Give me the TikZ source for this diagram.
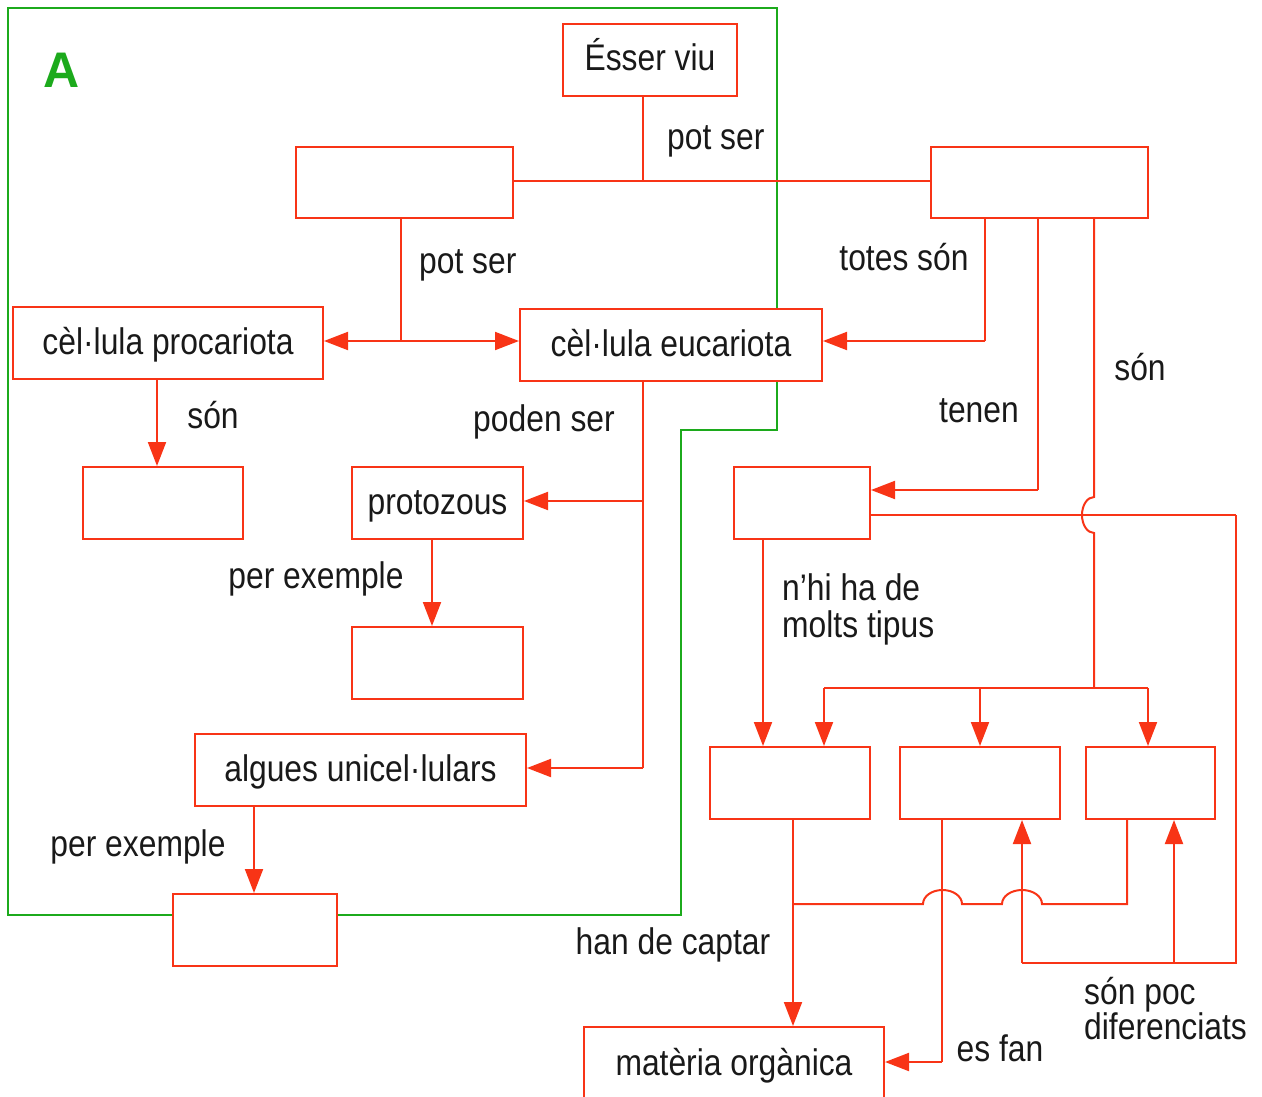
\documentclass[tikz,border=0pt]{standalone}
\usepackage{fontspec}
\setmainfont{Liberation Sans}[FakeStretch=0.86]
\newfontfamily\tagfont{Liberation Sans}
\usetikzlibrary{arrows.meta,calc}

\definecolor{linered}{RGB}{248,52,22}
\definecolor{framegreen}{RGB}{28,170,28}

\begin{document}
\begin{tikzpicture}[x=1pt,y=-1pt,
  every node/.style={font=\fontsize{37}{34}\selectfont, text=black!90},
  box/.style={draw=linered, line width=2pt, fill=white, inner sep=0pt,
              text height=27pt, text depth=5pt},
  lbl/.style={inner sep=0pt, text height=27pt, text depth=5pt},
  lbls/.style={inner sep=0pt, align=left, anchor=north west},
  wire/.style={draw=linered, line width=2pt},
  arr/.style={wire, -{Triangle[length=24pt,width=18pt]}},
  ]
\useasboundingbox (0,0) rectangle (1262,1097);
\clip (0,0) rectangle (1262,1097);

% green frame around part A
\draw[framegreen, line width=2.5pt]
  (8,8) -- (777,8) -- (777,430) -- (681,430) -- (681,915) -- (8,915) -- cycle;
\node[text=framegreen, font=\tagfont\fontsize{50}{50}\selectfont\bfseries] (tagA) at (62,70) {A};

% junction points of the connectors
\coordinate (j1) at (643,181);
\coordinate (j2) at (401,341);
\coordinate (j3) at (985,341);
\coordinate (j4) at (1038,490);
\coordinate (j5) at (1094,497);
\coordinate (j5b) at (1094,688);
\coordinate (k1) at (824,688);
\coordinate (k3) at (1148,688);
\coordinate (j6) at (157,379);
\coordinate (j7) at (643,501);
\coordinate (j7b) at (643,768);
\coordinate (j8) at (432,539);
\coordinate (j9) at (254,806);
\coordinate (j10) at (763,539);
\coordinate (r1) at (1236,515);
\coordinate (r2) at (1236,963);
\coordinate (r3) at (1174,963);
\coordinate (r4) at (1022,963);
\coordinate (h0) at (793,904);
\coordinate (h1) at (923,904);
\coordinate (h2) at (1002,904);
\coordinate (h3) at (1127,904);
\coordinate (m1) at (942,1062);

% connectors
\draw[wire] (j1 |- 0,96) -- (j1);
\draw[wire] (513,181) -- (931,181);
\draw[wire] (j2 |- 0,218) -- (j2);
\draw[wire] (j3 |- 0,218) -- (j3);
\draw[wire] (j4 |- 0,218) -- (j4);
\draw[wire] (j5 |- 0,218) -- (j5)
  arc[start angle=270, end angle=90, x radius=12, y radius=18] -- (j5b);
\draw[wire] (k1) -- (k3);
\draw[wire] (j7 |- 0,381) -- (j7b);
\draw[wire] (h0 |- 0,819) -- (h0);
\draw[wire] (h0) -- (h1)
  arc[start angle=180, end angle=360, x radius=19.5, y radius=14] -- (h2)
  arc[start angle=180, end angle=360, x radius=20, y radius=14] -- (h3) -- (h3 |- 0,819);
\draw[wire] (r1) -- (r2) -- (r4);
\draw[wire] (m1 |- 0,819) -- (m1);

% boxes
\node[box, minimum width=174pt, minimum height=72pt] (esser) at (650,60) {Ésser viu};
\node[box, minimum width=217pt, minimum height=71pt] (b1) at (404.5,182.5) {};
\node[box, minimum width=217pt, minimum height=71pt] (b2) at (1039.5,182.5) {};
\node[box, minimum width=310pt, minimum height=72pt] (pro) at (168,343) {cèl·lula procariota};
\node[box, minimum width=302pt, minimum height=72pt] (euc) at (671,345) {cèl·lula eucariota};
\node[box, minimum width=160pt, minimum height=72pt] (pe) at (163,503) {};
\node[box, minimum width=171pt, minimum height=72pt] (prot) at (437.5,503) {protozous};
\node[box, minimum width=171pt, minimum height=72pt] (px) at (437.5,663) {};
\node[box, minimum width=331pt, minimum height=72pt] (alg) at (360.5,770) {algues unicel·lulars};
\node[box, minimum width=164pt, minimum height=72pt] (ax) at (255,930) {};
\node[box, minimum width=136pt, minimum height=72pt] (ten) at (802,503) {};
\node[box, minimum width=160pt, minimum height=72pt] (c1) at (790,783) {};
\node[box, minimum width=160pt, minimum height=72pt] (c2) at (980,783) {};
\node[box, minimum width=129pt, minimum height=72pt] (c3) at (1150.5,783) {};
\node[box, minimum width=300pt, minimum height=74pt] (mat) at (734,1064) {matèria orgànica};

% arrows into the boxes
\draw[arr] (j2) -- (pro.east |- j2);
\draw[arr] (j2) -- (euc.west |- j2);
\draw[arr] (j3) -- (euc.east |- j3);
\draw[arr] (j4) -- (ten.east |- j4);
\draw[arr] (k1) -- (c1.north -| k1);
\draw[arr] (c2.north |- k1) -- (c2.north);
\draw[arr] (k3) -- (c3.north -| k3);
\draw[arr] (pro.south -| j6) -- (pe.north -| j6);
\draw[arr] (j7) -- (prot.east |- j7);
\draw[arr] (j7b) -- (alg.east |- j7b);
\draw[arr] (prot.south -| j8) -- (px.north -| j8);
\draw[arr] (alg.south -| j9) -- (ax.north -| j9);
\draw[arr] (ten.south -| j10) -- (c1.north -| j10);
\draw[wire] (ten.east |- r1) -- (r1);
\draw[arr] (r4) -- (c2.south -| r4);
\draw[arr] (r3) -- (c3.south -| r3);
\draw[arr] (h0) -- (mat.north -| h0);
\draw[arr] (m1) -- (mat.east |- m1);

% connector labels
\node[lbl, anchor=west] (l1) at (667,139) {pot ser};
\node[lbl, anchor=west] (l2) at (419,262) {pot ser};
\node[lbl] (l3) at (904,259) {totes són};
\node[lbl] (l4) at (979,411) {tenen};
\node[lbl] (l5) at (1140,369) {són};
\node[lbl] (l6) at (213,417) {són};
\node[lbl] (l7) at (544,420) {poden ser};
\node[lbl] (l8) at (316,577) {per exemple};
\node[lbl] (l9) at (138,845) {per exemple};
\node[lbls, font=\fontsize{37}{37}\selectfont] (l10) at (782,573) {n'hi ha de\\molts tipus};
\node[lbl] (l12) at (673,943) {han de captar};
\node[lbl] (l13) at (1000,1050) {es fan};
\node[lbls, font=\fontsize{37}{33}\selectfont] (l14) at (1084,977) {són poc\\diferenciats};
\end{tikzpicture}
\end{document}
